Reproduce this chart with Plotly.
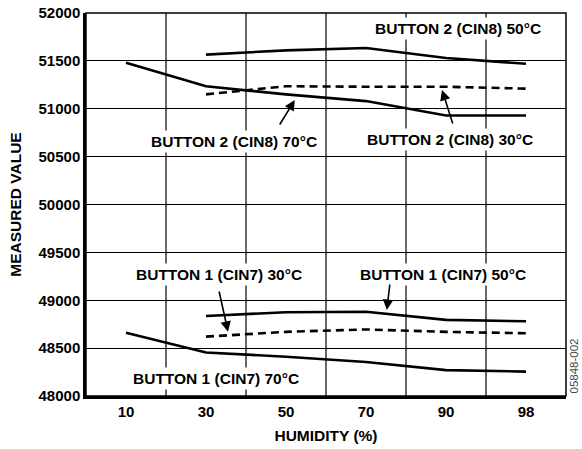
import plotly.graph_objects as go

humidity = ["10", "30", "50", "70", "90", "98"]

b2_50_x = ["30", "50", "70", "90", "98"]
b2_50_y = [51565, 51610, 51635, 51530, 51470]

b2_70_x = ["10", "30", "50", "70", "90", "98"]
b2_70_y = [51480, 51235, 51150, 51080, 50930, 50930]

b2_30_x = ["30", "50", "70", "90", "98"]
b2_30_y = [51150, 51235, 51230, 51230, 51210]

b1_50_x = ["30", "50", "70", "90", "98"]
b1_50_y = [48835, 48875, 48880, 48795, 48780]

b1_30_x = ["30", "50", "70", "90", "98"]
b1_30_y = [48620, 48670, 48695, 48670, 48655]

b1_70_x = ["10", "30", "50", "70", "90", "98"]
b1_70_y = [48660, 48455, 48410, 48355, 48270, 48255]

labels = [
    ("BUTTON 2 (CIN8) 50°C", 4.15, 51833),
    ("BUTTON 2 (CIN8) 70°C", 1.35, 50663),
    ("BUTTON 2 (CIN8) 30°C", 4.05, 50674),
    ("BUTTON 1 (CIN7) 30°C", 1.16, 49264),
    ("BUTTON 1 (CIN7) 50°C", 3.96, 49264),
    ("BUTTON 1 (CIN7) 70°C", 1.125, 48188),
]

arrows = [
    # head x, head y, tail x, tail y
    (2.11, 51091, 1.91, 50820),
    (3.95, 51196, 4.09, 50830),
    (1.275, 48672, 1.16, 49107),
    (3.26, 48898, 3.30, 49180),
]

FONT = "Liberation Sans, Arial, sans-serif"

fig = go.Figure()
series = [
    (b2_50_x, b2_50_y, "solid"),
    (b2_70_x, b2_70_y, "solid"),
    (b2_30_x, b2_30_y, "8px,5px"),
    (b1_50_x, b1_50_y, "solid"),
    (b1_30_x, b1_30_y, "8px,5px"),
    (b1_70_x, b1_70_y, "solid"),
]
for xs, ys, dash in series:
    fig.add_trace(go.Scatter(x=xs, y=ys, mode="lines",
                             line=dict(color="black", width=2.6, dash=dash),
                             showlegend=False, hoverinfo="skip"))

annotations = []
for text, x, y in labels:
    annotations.append(dict(x=x, y=y, xref="x", yref="y", text="<b>%s</b>" % text,
                            showarrow=False, bgcolor="white", borderpad=2,
                            font=dict(family=FONT, size=15.5, color="black")))
for hx, hy, tx, ty in arrows:
    annotations.append(dict(x=hx, y=hy, xref="x", yref="y", ax=tx, ay=ty,
                            axref="x", ayref="y", text="", showarrow=True,
                            arrowhead=2, arrowsize=1.3, arrowwidth=1.6,
                            arrowcolor="black"))
annotations.append(dict(x=1.0, y=0.0, xref="paper", yref="paper", text="05848-002",
                        showarrow=False, textangle=-90, xanchor="center", yanchor="bottom",
                        xshift=7, yshift=0,
                        font=dict(family=FONT, size=11.5, color="#444444")))

fig.update_layout(
    width=582, height=449,
    margin=dict(l=86, r=16, t=13, b=53, autoexpand=False),
    paper_bgcolor="white", plot_bgcolor="white",
    annotations=annotations,
    font=dict(family=FONT, color="black"),
    shapes=[dict(type="rect", xref="paper", yref="paper", x0=0, y0=0, x1=1, y1=1,
                 line=dict(color="black", width=1.5))],
)
fig.update_xaxes(type="category", categoryorder="array", categoryarray=humidity,
                 range=[-0.5, 5.5], showgrid=False, automargin=False,
                 tickfont=dict(family=FONT, size=15, color="black"),
                 tickprefix="<b>", ticksuffix="</b>",
                 title=dict(text="<b>HUMIDITY (%)</b>", font=dict(family=FONT, size=15.5),
                            standoff=12),
                 showline=True, linecolor="black", linewidth=2.5, ticks="", zeroline=False)
# vertical grid lines between categories
for i in range(5):
    fig.add_vline(x=i + 0.5, line=dict(color="black", width=1.2), layer="below")
fig.update_yaxes(range=[48000, 52000], dtick=500, showgrid=True, gridcolor="black",
                 gridwidth=1.2, tickfont=dict(family=FONT, size=15, color="black"),
                 tickprefix="<b>", ticksuffix="</b>", tickformat="d", automargin=False,
                 title=dict(text="<b>MEASURED VALUE</b>", font=dict(family=FONT, size=15.5),
                            standoff=14),
                 showline=True, linecolor="black", linewidth=2.5, ticks="", zeroline=False)

fig.write_html("out.html", config={"displayModeBar": False},
               post_script="document.body.style.margin='0';")
